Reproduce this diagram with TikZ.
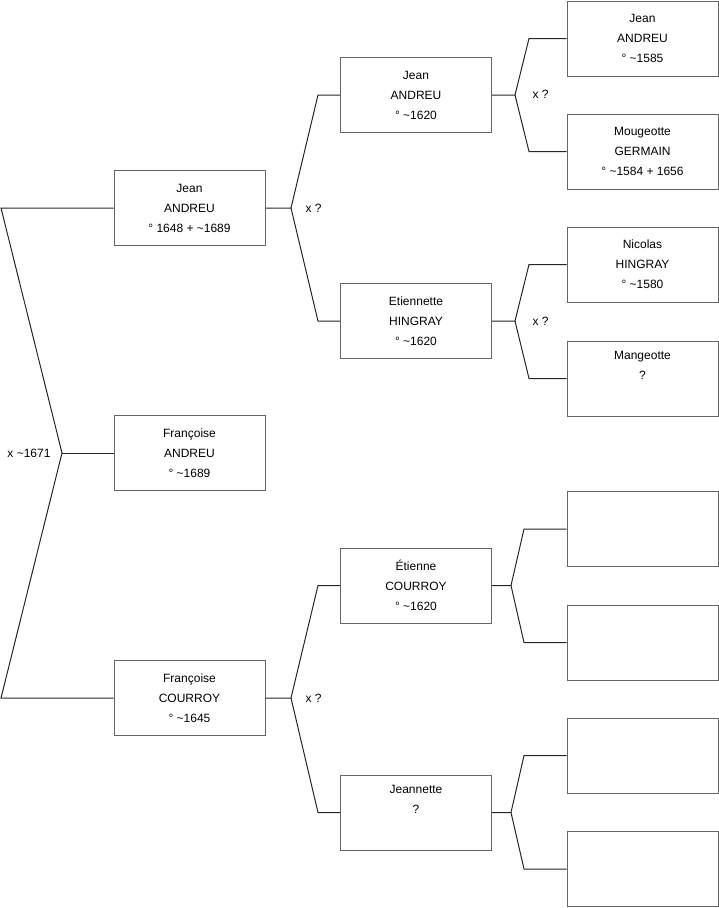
\documentclass[tikz,border=0pt]{standalone}
\usepackage{fontspec}
\setmainfont{Liberation Sans}
\begin{document}
\begin{tikzpicture}[x=1pt, y=-1pt, line width=1pt,
  person/.style={draw=black!60, minimum width=151pt, minimum height=75pt, inner sep=0pt, align=center, font=\fontsize{12}{20}\selectfont},
  link/.style={draw=black!85},
  mar/.style={font=\fontsize{12}{14}\selectfont, inner sep=0pt}]
\useasboundingbox (0,0) rectangle (719,908);
% generation 1
\node[person] (a) at (189.5,208) {Jean\\ANDREU\\° 1648 + \textasciitilde1689};
\node[person] (b) at (189.5,453) {Françoise\\ANDREU\\° \textasciitilde1689};
\node[person] (c) at (189.5,698) {Françoise\\COURROY\\° \textasciitilde1645};
% generation 2
\node[person] (d) at (416,95) {Jean\\ANDREU\\° \textasciitilde1620};
\node[person] (e) at (416,321) {Etiennette\\HINGRAY\\° \textasciitilde1620};
\node[person] (f) at (416,585.5) {Étienne\\COURROY\\° \textasciitilde1620};
\node[person] (g) at (416,812.5) {Jeannette\\?\\\strut};
% generation 3
\node[person] (h) at (642.5,38.5) {Jean\\ANDREU\\° \textasciitilde1585};
\node[person] (i) at (642.5,151.5) {Mougeotte\\GERMAIN\\° \textasciitilde1584 + 1656};
\node[person] (k) at (642.5,264.5) {Nicolas\\HINGRAY\\° \textasciitilde1580};
\node[person] (l) at (642.5,378.5) {Mangeotte\\?\\\strut};
\node[person] (m) at (642.5,529) {};
\node[person] (n) at (642.5,642.5) {};
\node[person] (o) at (642.5,755.5) {};
\node[person] (p) at (642.5,869) {};
% forks
\coordinate (j0a) at (1,208);
\coordinate (j0) at (62,453);
\coordinate (j0b) at (1,698);
\coordinate (j1) at (291,208);
\coordinate (j1a) at (318,95);
\coordinate (j1b) at (318,321);
\coordinate (j2) at (291,698);
\coordinate (j2a) at (318,585.5);
\coordinate (j2b) at (318,812.5);
\coordinate (j3) at (515,95);
\coordinate (j3a) at (529,38.5);
\coordinate (j3b) at (529,151.5);
\coordinate (j4) at (515,321);
\coordinate (j4a) at (529,264.5);
\coordinate (j4b) at (529,378.5);
\coordinate (j5) at (511,585.5);
\coordinate (j5a) at (524,529);
\coordinate (j5b) at (524,642.5);
\coordinate (j6) at (511,812.5);
\coordinate (j6a) at (524,755.5);
\coordinate (j6b) at (524,869);
\draw[link] (a.west) -- (j0a) -- (j0) -- (j0b) -- (c.west);
\draw[link] (j0) -- (b.west);
\draw[link] (a.east) -- (j1) -- (j1a) -- (d.west);
\draw[link] (j1) -- (j1b) -- (e.west);
\draw[link] (c.east) -- (j2) -- (j2a) -- (f.west);
\draw[link] (j2) -- (j2b) -- (g.west);
\draw[link] (d.east) -- (j3) -- (j3a) -- (h.west);
\draw[link] (j3) -- (j3b) -- (i.west);
\draw[link] (e.east) -- (j4) -- (j4a) -- (k.west);
\draw[link] (j4) -- (j4b) -- (l.west);
\draw[link] (f.east) -- (j5) -- (j5a) -- (m.west);
\draw[link] (j5) -- (j5b) -- (n.west);
\draw[link] (g.east) -- (j6) -- (j6a) -- (o.west);
\draw[link] (j6) -- (j6b) -- (p.west);
% marriages
\node[mar, anchor=east] (x0) at (51,453) {x \textasciitilde1671};
\node[mar, anchor=west] (x1) at (305,208) {x ?};
\node[mar, anchor=west] (x2) at (305,698) {x ?};
\node[mar, anchor=west] (x3) at (532,94) {x ?};
\node[mar, anchor=west] (x4) at (532,321) {x ?};
\end{tikzpicture}
\end{document}
